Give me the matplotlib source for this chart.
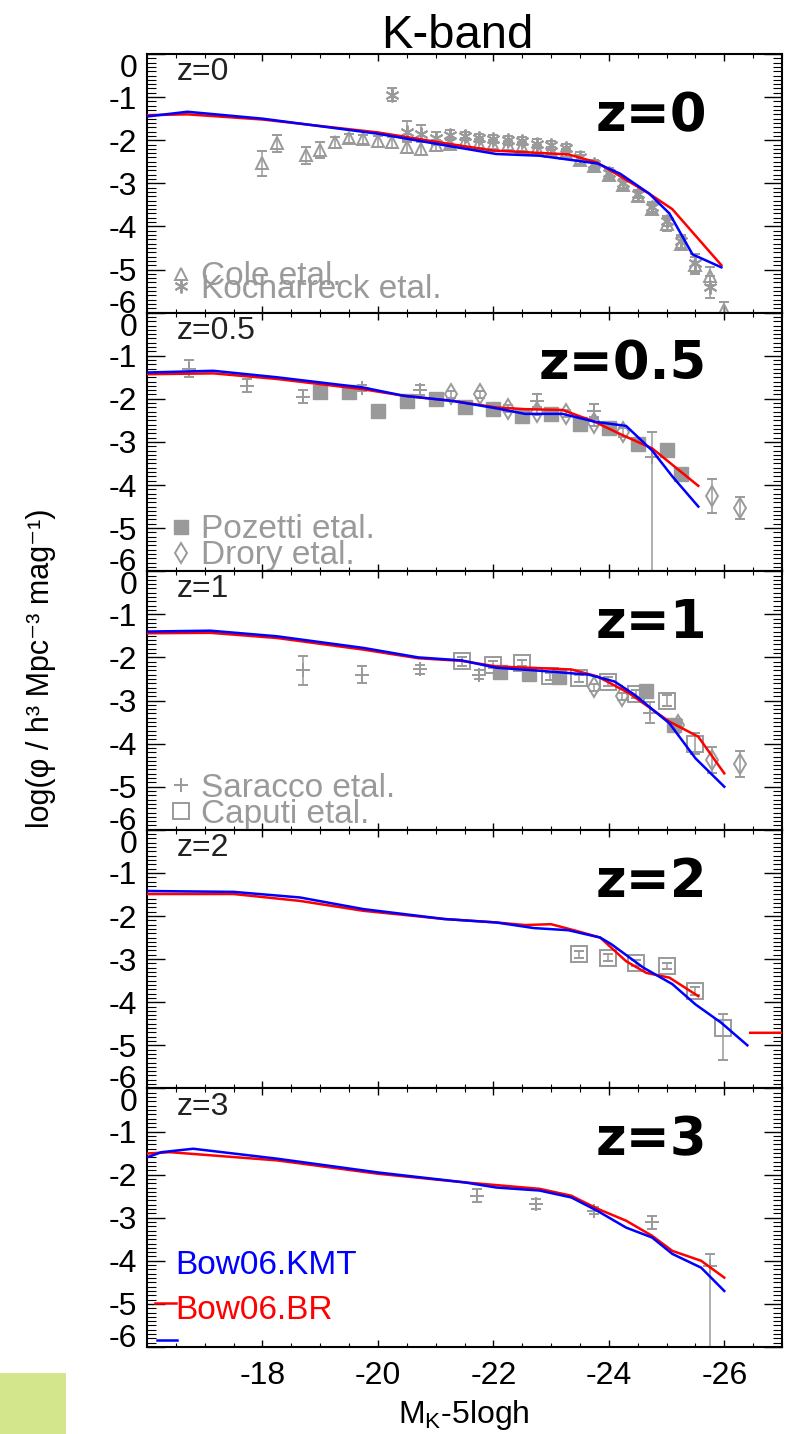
import numpy as np
import matplotlib
matplotlib.use("Agg")
import matplotlib.pyplot as plt
from matplotlib.ticker import MultipleLocator
from matplotlib.patches import Rectangle

plt.rcParams['font.family'] = ['Liberation Sans', 'DejaVu Sans']
plt.rcParams['axes.unicode_minus'] = False
plt.rcParams['mathtext.fontset'] = 'custom'
plt.rcParams['mathtext.rm'] = 'Liberation Sans'

# Colours
BLUE = '#0000ff'
RED = '#ff0000'
GREY = '#9a9a9a'
ASTERISK = (6, 2, 0)

# ---- model curves (Bow06.KMT = blue, Bow06.BR = red) ----
# z=0
kmt0_M = [-16.0, -16.7, -18.0, -20.0, -21.3, -22.05, -22.8, -23.8, -24.2, -24.7, -25.05, -25.45, -25.95]
kmt0_phi = [-1.45, -1.34, -1.5, -1.85, -2.15, -2.32, -2.36, -2.54, -2.78, -3.24, -3.7, -4.65, -4.95]
br0_M = [-16.0, -16.7, -18.0, -20.0, -21.3, -22.0, -23.3, -23.8, -24.7, -25.1, -25.95]
br0_phi = [-1.42, -1.4, -1.52, -1.82, -2.1, -2.24, -2.33, -2.52, -3.24, -3.6, -4.9]

# z=0.5
kmt05_M = [-16.0, -17.15, -18.25, -19.75, -20.45, -21.3, -22.05, -22.55, -23.2, -23.75, -24.3, -24.75, -25.1, -25.55]
kmt05_phi = [-1.39, -1.35, -1.5, -1.74, -1.93, -2.05, -2.22, -2.35, -2.35, -2.53, -2.63, -3.2, -3.8, -4.5]
br05_M = [-16.0, -17.15, -18.25, -19.75, -20.45, -21.3, -22.05, -22.55, -23.2, -23.75, -24.2, -24.75, -25.55]
br05_phi = [-1.43, -1.41, -1.54, -1.78, -1.93, -2.05, -2.2, -2.24, -2.26, -2.53, -2.82, -3.15, -4.02]

# z=1
kmt1_M = [-16.0, -17.1, -18.25, -19.75, -20.7, -21.45, -22.05, -22.8, -23.65, -24.1, -24.45, -25.05, -25.5, -26.0]
kmt1_phi = [-1.40, -1.38, -1.51, -1.78, -2.0, -2.07, -2.24, -2.31, -2.4, -2.56, -2.87, -3.53, -4.34, -5.0]
br1_M = [-16.0, -17.1, -18.25, -19.75, -20.7, -21.45, -22.05, -22.8, -23.35, -23.8, -24.35, -25.05, -25.55, -26.0]
br1_phi = [-1.44, -1.43, -1.55, -1.82, -2.02, -2.08, -2.21, -2.25, -2.28, -2.44, -2.83, -3.49, -3.84, -4.69]

# z=2
kmt2_M = [-16.0, -17.5, -18.65, -19.75, -21.15, -22.05, -22.7, -23.3, -23.85, -24.05, -24.6, -25.1, -25.5, -25.95, -26.4]
kmt2_phi = [-1.42, -1.44, -1.57, -1.84, -2.07, -2.15, -2.28, -2.33, -2.5, -2.66, -3.2, -3.58, -4.05, -4.48, -5.0]
br2_M = [-16.0, -17.5, -18.65, -19.75, -21.15, -22.05, -22.55, -23.0, -23.45, -23.85, -24.3, -24.65, -25.05, -25.55, np.nan, -26.45, -27.0]
br2_phi = [-1.49, -1.49, -1.65, -1.88, -2.07, -2.15, -2.21, -2.19, -2.35, -2.5, -3.05, -3.32, -3.43, -3.86, np.nan, -4.71, -4.71]

# z=3
kmt3_M = [-16.0, -16.25, -16.8, -18.25, -20.0, -21.5, -22.05, -22.8, -23.35, -23.8, -24.3, -24.75, -25.1, -25.6, -26.0]
kmt3_phi = [-1.6, -1.48, -1.4, -1.63, -1.95, -2.18, -2.3, -2.37, -2.53, -2.84, -3.23, -3.46, -3.84, -4.16, -4.7]
br3_M = [-16.0, -16.4, -18.25, -20.0, -21.5, -22.8, -23.35, -23.8, -24.3, -24.75, -25.1, -25.6, -26.0]
br3_phi = [-1.51, -1.48, -1.67, -1.98, -2.18, -2.33, -2.49, -2.79, -3.07, -3.42, -3.77, -4.0, -4.39]

# ---- observational data ----
# z=0 : Cole et al. (triangles), Kochanek et al. (asterisks)
cole_M = [-18.0, -18.25, -18.75, -19.0, -19.25, -19.5, -19.75, -20.0, -20.25, -20.5, -20.75, -21.0,
          -21.25, -21.5, -21.75, -22.0, -22.25, -22.5, -22.75, -23.0, -23.25, -23.5, -23.75, -24.0,
          -24.25, -24.5, -24.75, -25.0, -25.25, -25.5, -25.75, -26.0]
cole_phi = [-2.54, -2.07, -2.35, -2.23, -2.05, -1.96, -1.98, -2.03, -2.05, -2.15, -2.2, -2.12,
            -2.08, -2.05, -2.08, -2.1, -2.12, -2.15, -2.2, -2.25, -2.3, -2.45, -2.6, -2.8,
            -3.05, -3.3, -3.6, -3.95, -4.4, -4.9, -5.15, -5.95]
cole_err = [0.3, 0.2, 0.2, 0.18, 0.12, 0.1, 0.1, 0.12, 0.12, 0.15, 0.15, 0.12,
            0.1, 0.1, 0.1, 0.1, 0.1, 0.1, 0.1, 0.1, 0.1, 0.1, 0.1, 0.1,
            0.1, 0.12, 0.12, 0.15, 0.15, 0.2, 0.2, 0.2]
koch_M = [-20.25, -20.5, -20.75, -21.0, -21.25, -21.5, -21.75, -22.0, -22.25, -22.5, -22.75, -23.0,
          -23.25, -23.5, -23.75, -24.0, -24.25, -24.5, -24.75, -25.0, -25.25, -25.5, -25.75]
koch_phi = [-0.95, -1.8, -1.85, -1.95, -1.88, -1.9, -1.95, -1.97, -2.0, -2.02, -2.08, -2.12,
            -2.18, -2.38, -2.55, -2.75, -3.0, -3.25, -3.55, -3.88, -4.35, -4.85, -5.4]
koch_err = [0.15, 0.25, 0.2, 0.15, 0.12, 0.1, 0.1, 0.1, 0.1, 0.1, 0.1, 0.1,
            0.1, 0.1, 0.1, 0.1, 0.1, 0.1, 0.12, 0.12, 0.15, 0.2, 0.25]

# z=0.5 : Pozetti (filled squares), Drory (diamonds), plus other points (+)
plus05_M = [-16.72, -17.74, -18.7, -19.73, -20.73, -22.75, -23.75, -24.74]
plus05_phi = [-1.3, -1.7, -1.95, -1.75, -1.8, -2.05, -2.28, -3.35]
plus05_lo = [0.2, 0.15, 0.15, 0.08, 0.12, 0.15, 0.15, 3.0]
plus05_hi = [0.2, 0.15, 0.15, 0.08, 0.12, 0.15, 0.15, 0.57]
poz05_M = [-19.0, -19.5, -20.0, -20.5, -21.0, -21.5, -22.0, -22.5, -23.0, -23.5, -24.0, -24.5, -25.0, -25.25]
poz05_phi = [-1.85, -1.85, -2.28, -2.05, -2.0, -2.2, -2.24, -2.4, -2.35, -2.58, -2.67, -3.05, -3.19, -3.75]
dro05_M = [-21.27, -21.76, -22.25, -22.75, -23.25, -23.75, -24.24, -25.78, -26.27]
dro05_phi = [-1.89, -1.89, -2.23, -2.3, -2.35, -2.55, -2.78, -4.26, -4.53]
dro05_err = [0.08, 0.08, 0.08, 0.08, 0.08, 0.08, 0.1, 0.4, 0.25]

# z=1 : Saracco (+), Caputi (open squares), Pozetti, Drory
sar1_M = [-18.7, -19.73, -20.73, -21.75, -24.72]
sar1_phi = [-2.3, -2.4, -2.28, -2.4, -3.28]
sar1_err = [0.33, 0.2, 0.1, 0.1, 0.25]
cap1_M = [-21.46, -22.0, -22.49, -22.98, -23.48, -23.98, -24.47, -25.0, -25.5]
cap1_phi = [-2.09, -2.17, -2.13, -2.44, -2.48, -2.56, -2.85, -3.0, -4.0]
cap1_err = [0.1, 0.08, 0.08, 0.08, 0.08, 0.1, 0.1, 0.12, 0.25]
poz1_M = [-22.12, -22.62, -23.13, -24.65, -25.13]
poz1_phi = [-2.33, -2.38, -2.46, -2.77, -3.58]
dro1_M = [-23.75, -24.22, -25.2, -25.78, -26.27]
dro1_phi = [-2.69, -2.9, -3.56, -4.38, -4.47]
dro1_err = [0.08, 0.08, 0.1, 0.3, 0.3]

# z=2 : Caputi
cap2_M = [-23.48, -23.98, -24.47, -25.0, -25.5, -25.97]
cap2_phi = [-2.89, -2.97, -3.09, -3.16, -3.74, -4.6]
cap2_lo = [0.08, 0.08, 0.08, 0.08, 0.1, 0.75]
cap2_hi = [0.08, 0.08, 0.08, 0.08, 0.1, 0.32]

# z=3 : (+)
plus3_M = [-21.72, -22.74, -23.74, -24.74, -25.75]
plus3_phi = [-2.49, -2.68, -2.84, -3.11, -4.12]
plus3_lo = [0.15, 0.12, 0.08, 0.15, 3.0]
plus3_hi = [0.15, 0.12, 0.08, 0.15, 0.28]

z_labels = ['z=0', 'z=0.5', 'z=1', 'z=2', 'z=3']
y_ticks = [0, -1, -2, -3, -4, -5, -6]
x_ticks = [-18, -20, -22, -24, -26]

# Figure geometry (pixels of the 791x1434 canvas)
W, H = 791, 1434
AX_LEFT, AX_RIGHT = 147, 782
AX_TOP, PANEL_H = 54, 258.6

fig = plt.figure(figsize=(W / 100, H / 100), dpi=100)


def points(ax, M, phi, lo, hi=None, marker='^', filled=False, ms=9):
    if hi is None:
        hi = lo
    return ax.errorbar(M, phi, yerr=[lo, hi], marker=marker, ls='none', ms=ms,
                       color=GREY, ecolor=GREY, mfc=GREY if filled else 'none', mec=GREY,
                       mew=1.4, elinewidth=1.1, capsize=3.5, capthick=1.1, zorder=2)


axes = []
for i in range(5):
    y0 = 1 - (AX_TOP + (i + 1) * PANEL_H) / H
    ax = fig.add_axes([AX_LEFT / W, y0, (AX_RIGHT - AX_LEFT) / W, PANEL_H / H])
    ax.set_xlim(-16, -27)
    ax.set_ylim(-6, 0)
    ax.set_yticks(y_ticks)
    ax.set_xticks(x_ticks)
    ax.xaxis.set_minor_locator(MultipleLocator(0.5))
    ax.yaxis.set_minor_locator(MultipleLocator(0.1))
    ax.tick_params(axis='both', which='both', direction='in', top=True, right=True,
                   labelsize=23, color='black')
    ax.tick_params(axis='y', which='major', length=13, width=1.0, pad=7)
    ax.tick_params(axis='y', which='minor', length=6.5, width=0.8)
    ax.tick_params(axis='x', which='major', length=5, width=1.0, pad=10)
    ax.tick_params(axis='x', which='minor', length=3, width=0.8)
    if i < 4:
        ax.tick_params(axis='x', labelbottom=False)
    for sp in ax.spines.values():
        sp.set_linewidth(1.5)
    # keep the end labels inside their own panel
    ticks = ax.yaxis.get_major_ticks()
    ticks[0].label1.set_va('top')
    ticks[-1].label1.set_va('baseline')
    ax.text(0.047, 0.93, z_labels[i], transform=ax.transAxes, fontsize=23,
            color='#222222', va='center', ha='left')
    ax.text(0.882, 0.80 - (0.04 if i == 0 else 0), z_labels[i], transform=ax.transAxes,
            fontsize=38, fontweight='bold', family='DejaVu Sans',
            va='center', ha='right', color='black')
    axes.append(ax)

ax0, ax05, ax1, ax2, ax3 = axes

# z=0
h1 = points(ax0, cole_M, cole_phi, cole_err, marker='^', ms=9)
h2 = points(ax0, koch_M, koch_phi, koch_err, marker=ASTERISK, ms=10)
ax0.plot(br0_M, br0_phi, color=RED, lw=1.8, zorder=3)
ax0.plot(kmt0_M, kmt0_phi, color=BLUE, lw=1.8, zorder=3)

# z=0.5
points(ax05, plus05_M, plus05_phi, plus05_lo, plus05_hi, marker='+', ms=10)
h3 = ax05.errorbar(poz05_M, poz05_phi, fmt='s', ms=10, color=GREY, mec=GREY, zorder=2)
h4 = points(ax05, dro05_M, dro05_phi, dro05_err, marker='d', ms=10)
ax05.plot(br05_M, br05_phi, color=RED, lw=1.8, zorder=3)
ax05.plot(kmt05_M, kmt05_phi, color=BLUE, lw=1.8, zorder=3)

# z=1
h5 = points(ax1, sar1_M, sar1_phi, sar1_err, marker='+', ms=10)
h6 = points(ax1, cap1_M, cap1_phi, cap1_err, marker='s', ms=11)
ax1.errorbar(poz1_M, poz1_phi, fmt='s', ms=10, color=GREY, mec=GREY, zorder=2)
points(ax1, dro1_M, dro1_phi, dro1_err, marker='d', ms=10)
ax1.plot(br1_M, br1_phi, color=RED, lw=1.8, zorder=3)
ax1.plot(kmt1_M, kmt1_phi, color=BLUE, lw=1.8, zorder=3)

# z=2
points(ax2, cap2_M, cap2_phi, cap2_lo, cap2_hi, marker='s', ms=11)
ax2.plot(br2_M, br2_phi, color=RED, lw=1.8, zorder=3)
ax2.plot(kmt2_M, kmt2_phi, color=BLUE, lw=1.8, zorder=3)

# z=3
points(ax3, plus3_M, plus3_phi, plus3_lo, plus3_hi, marker='+', ms=10)
ax3.plot(br3_M, br3_phi, color=RED, lw=1.8, zorder=3)
ax3.plot(kmt3_M, kmt3_phi, color=BLUE, lw=1.8, zorder=3)

# data legends (marker only, no error bars)
leg_kw = dict(loc='lower left', frameon=False, fontsize=24, labelcolor=GREY,
              handlelength=0.7, handletextpad=0.25,
              borderaxespad=0, borderpad=0)
ax0.legend([h1[0], h2[0]], ['Cole etal.', 'Kocharreck etal.'], bbox_to_anchor=(0.035, 0.03),
           labelspacing=-0.55, **leg_kw)
ax05.legend([h3[0], h4[0]], ['Pozetti etal.', 'Drory etal.'], bbox_to_anchor=(0.035, 0.0),
            labelspacing=-0.15, **leg_kw)
ax1.legend([h5[0], h6[0]], ['Saracco etal.', 'Caputi etal.'], bbox_to_anchor=(0.035, 0.0),
           labelspacing=-0.15, **leg_kw)

# model legend (text only, with the stray line samples at the left edge)
ax3.text(0.045, 0.317, 'Bow06.KMT', transform=ax3.transAxes, color=BLUE, fontsize=24,
         va='center', ha='left')
ax3.text(0.045, 0.143, 'Bow06.BR', transform=ax3.transAxes, color=RED, fontsize=24,
         va='center', ha='left')
ax3.plot([0.012, 0.045], [0.17, 0.17], transform=ax3.transAxes, color=RED, lw=1.8)
ax3.plot([0.016, 0.047], [0.027, 0.027], transform=ax3.transAxes, color=BLUE, lw=1.8)

# titles / axis labels
fig.text(457 / W, 1 - 48 / H, 'K-band', fontsize=34, ha='center', va='baseline')
fig.text(464 / W, 1 - 1423 / H, r'M$_{\rm K}$-5logh', fontsize=23, ha='center', va='baseline')
fig.text(41 / W, 1 - 668 / H, 'log(φ / h³ Mpc⁻³ mag⁻¹)', fontsize=22, rotation=90,
         ha='center', va='center')

# light green box in the lower left corner
fig.patches.append(Rectangle((0, 0), 66 / W, 61 / H, transform=fig.transFigure,
                             facecolor='#d4e68c', edgecolor='none'))

fig.savefig('out.png', dpi=100)
